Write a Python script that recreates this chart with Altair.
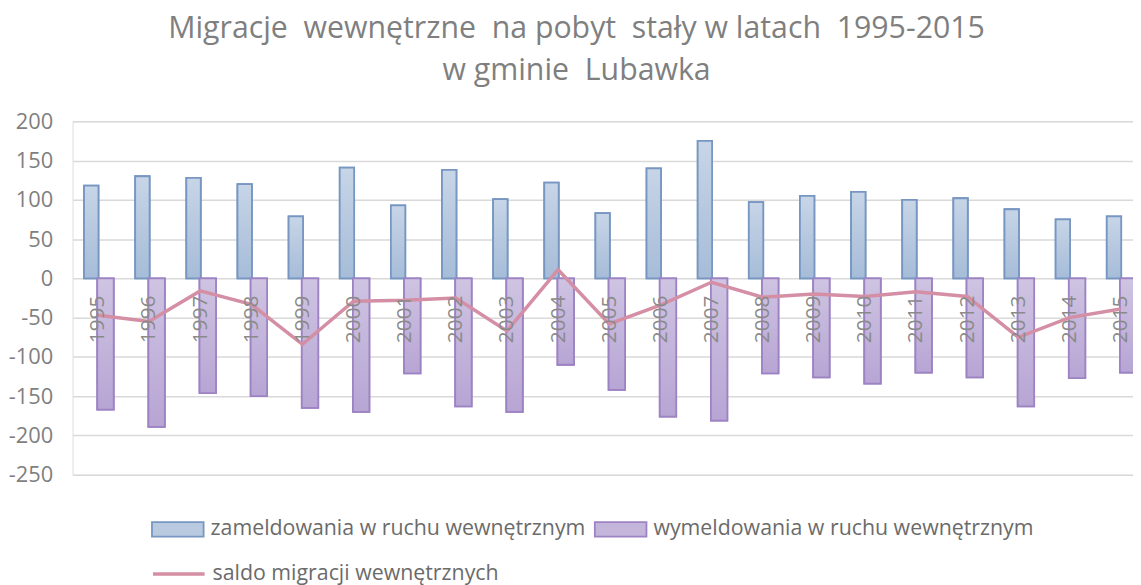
import altair as alt
import pandas as pd

years = [1995, 1996, 1997, 1998, 1999, 2000, 2001, 2002, 2003, 2004, 2005,
         2006, 2007, 2008, 2009, 2010, 2011, 2012, 2013, 2014, 2015]
zameldowania = [118, 130, 128, 120, 79, 141, 93, 138, 101, 122, 83,
                140, 175, 97, 105, 110, 100, 102, 88, 75, 79]
wymeldowania = [-167, -189, -146, -150, -165, -170, -121, -163, -170, -110, -142,
                -176, -181, -121, -126, -134, -120, -126, -163, -127, -120]
saldo = [-47, -55, -16, -33, -84, -29, -28, -25, -67, 11, -58,
         -34, -5, -24, -20, -23, -17, -23, -75, -50, -39]

S_ZAM = "zameldowania w ruchu wewnętrznym"
S_WYM = "wymeldowania w ruchu wewnętrznym"
S_SAL = "saldo migracji wewnętrznych"
bar_names = [S_ZAM, S_WYM]
y_ticks = [-250, -200, -150, -100, -50, 0, 50, 100, 150, 200]

bar_rows = []
for i, yr in enumerate(years):
    bar_rows.append({"rok": yr, "seria": S_ZAM, "wartosc": zameldowania[i]})
    bar_rows.append({"rok": yr, "seria": S_WYM, "wartosc": wymeldowania[i]})
df_bars = pd.DataFrame(bar_rows)
df_line = pd.DataFrame({"rok": years, "linia": [S_SAL] * len(years), "wartosc": saldo})

FONT = "Open Sans"
fill_scale = alt.Scale(domain=bar_names, range=["#b9cae0", "#c4b5da"])
stroke_scale = alt.Scale(domain=bar_names, range=["#7797c2", "#9d83c3"])
line_scale = alt.Scale(domain=[S_SAL], range=["#d48fa5"])

x_scale = alt.Scale(domain=[1994.505, 2015.243], nice=False, zero=False)
y_scale = alt.Scale(domain=[-250, 200], nice=False)

common_legend = dict(
    title=None, orient="none", direction="horizontal", labelFont=FONT,
    labelFontSize=21.5, labelColor="#6b6b6b", symbolSize=2704, labelOffset=6,
    labelLimit=600,
)
bar_legend = alt.Legend(
    legendX=79, legendY=384, columns=2, columnPadding=5,
    symbolType="M-1,-0.28H1V0.28H-1Z", symbolStrokeWidth=1.8, **common_legend)
line_legend = alt.Legend(
    legendX=79, legendY=428, symbolType="stroke", symbolStrokeWidth=3.5,
    **common_legend)


def x_axis():
    return alt.Axis(
        values=years, format="d", labelAngle=270, offset=-198, domain=False,
        ticks=False, grid=False, labelPadding=17, labelFont=FONT, labelFontSize=21,
        labelColor="#8a8a8a", labelOverlap=False, labelFlush=False, zindex=1,
        title=None)


def y_axis():
    return alt.Axis(
        values=y_ticks, domain=False, ticks=False, grid=True, gridColor="#d9d9d9",
        gridWidth=1.5, labelFont=FONT, labelFontSize=22, labelColor="#7f7f7f",
        labelPadding=20, labelOverlap=False, labelExpr="toString(datum.value)",
        title=None)


bar_base = alt.Chart(df_bars).transform_calculate(
    x0=f"datum.seria === '{S_ZAM}' ? datum.rok - 0.27 : datum.rok - 0.012",
    x1=f"datum.seria === '{S_ZAM}' ? datum.rok + 0.012 : datum.rok + 0.31",
)

bars = bar_base.mark_bar(strokeWidth=1.8, clip=True).encode(
    x=alt.X("x0:Q", scale=x_scale, axis=x_axis()),
    x2="x1:Q",
    y=alt.Y("wartosc:Q", scale=y_scale, axis=y_axis()),
    y2=alt.datum(0),
    fill=alt.Fill("seria:N", scale=fill_scale, legend=bar_legend),
    stroke=alt.Stroke("seria:N", scale=stroke_scale, legend=bar_legend),
)


def grad_layer(name, c_top, c_bottom, c_stroke):
    return bar_base.transform_filter(
        alt.FieldEqualPredicate(field="seria", equal=name)
    ).mark_bar(
        clip=True, strokeWidth=1.8, stroke=c_stroke,
        fill=alt.Gradient(gradient="linear", x1=0, y1=0, x2=0, y2=1,
                          stops=[alt.GradientStop(color=c_top, offset=0),
                                 alt.GradientStop(color=c_bottom, offset=1)]),
    ).encode(
        x=alt.X("x0:Q", scale=x_scale, axis=x_axis()),
        x2="x1:Q",
        y=alt.Y("wartosc:Q", scale=y_scale, axis=y_axis()),
        y2=alt.datum(0),
    )


grad_zam = grad_layer(S_ZAM, "#c7d5e7", "#a6bcd8", "#7797c2")
grad_wym = grad_layer(S_WYM, "#cfc4e2", "#b7a5d4", "#9d83c3")

line = alt.Chart(df_line).mark_line(strokeWidth=3.5).encode(
    x=alt.X("rok:Q", scale=x_scale, axis=x_axis()),
    y=alt.Y("wartosc:Q", scale=y_scale, axis=y_axis()),
    color=alt.Color("linia:N", scale=line_scale, legend=line_legend),
)

NB = "\u00a0"
chart = alt.layer(bars, grad_zam, grad_wym, line).properties(
    width=1068, height=356,
    padding={"top": 4, "left": 0, "right": 0, "bottom": 0},
    title=alt.TitleParams(
        text=[f"Migracje {NB}wewnętrzne {NB}na pobyt {NB}stały w latach {NB}1995-2015",
              f"w gminie {NB}Lubawka"],
        font=FONT, fontSize=30.5, fontWeight="normal", color="#7f7f7f",
        anchor="middle", frame="bounds", lineHeight=42, offset=24, dx=6),
).configure_view(stroke=None).configure(background="white")

chart.save("out.html", embed_options={"renderer": "svg", "actions": False})
